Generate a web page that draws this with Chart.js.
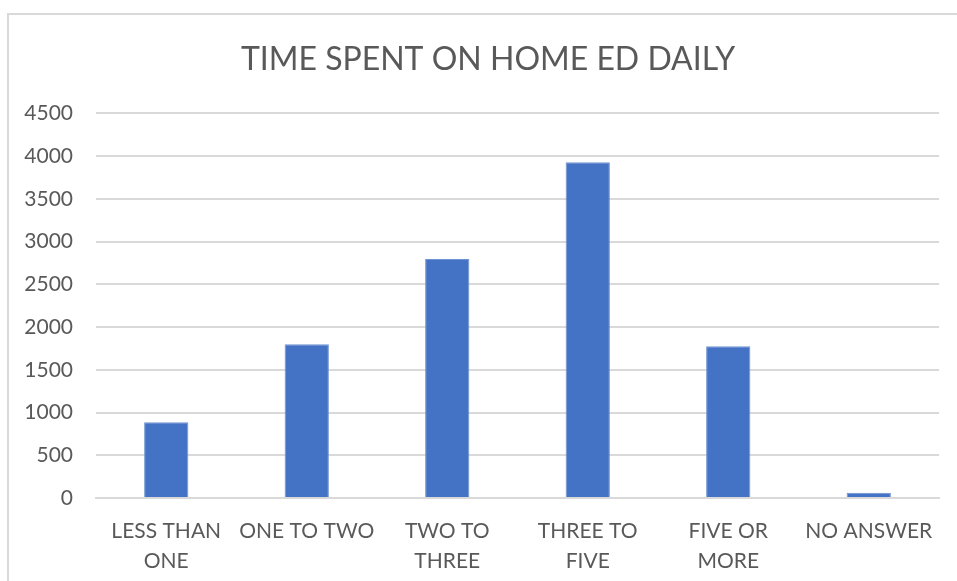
<!DOCTYPE html>
<html>
<head>
<meta charset="utf-8">
<script src="https://cdn.jsdelivr.net/npm/chart.js@4"></script>
<style>
    html, body { margin: 0; padding: 0; background: #fff; overflow: hidden; }
    #frame {
        position: absolute;
        left: 7px;
        top: 13px;
        width: 958px;
        height: 600px;
        border: 2px solid #d9d9d9;
    }
    #chart { display: block; }
</style>
</head>
<body>
<div id="frame">
    <canvas id="chart" width="958" height="600"></canvas>
</div>
<script>
var categories = [
    ['LESS THAN', 'ONE'],
    'ONE TO TWO',
    ['TWO TO', 'THREE'],
    ['THREE TO', 'FIVE'],
    ['FIVE OR', 'MORE'],
    'NO ANSWER'
];
var hoursCounts = [885, 1800, 2795, 3927, 1776, 62];
var yTicks = [0, 500, 1000, 1500, 2000, 2500, 3000, 3500, 4000, 4500];

var textColor = '#595959';
var gridColor = '#d9d9d9';

var ctx = document.getElementById('chart').getContext('2d');
var timeChart = new Chart(ctx, {
    type: 'bar',
    data: {
        labels: categories,
        datasets: [{
            label: 'Time spent',
            data: hoursCounts,
            backgroundColor: '#4472c4',
            borderColor: '#6f93d2',
            borderWidth: 1,
            barPercentage: 0.315,
            categoryPercentage: 1
        }]
    },
    options: {
        responsive: false,
        animation: false,
        layout: {
            padding: 0
        },
        plugins: {
            legend: { display: false },
            tooltip: { enabled: false },
            title: {
                display: true,
                text: 'TIME SPENT ON HOME ED DAILY',
                color: textColor,
                font: { family: 'Lato', size: 32, weight: 'normal', lineHeight: 1.2 },
                padding: { top: 25, bottom: 35 }
            }
        },
        scales: {
            x: {
                grid: { display: false },
                border: { display: true, color: gridColor, width: 2 },
                ticks: {
                    color: textColor,
                    font: { family: 'Lato', size: 21, lineHeight: 1.43 },
                    padding: 10,
                    maxRotation: 0,
                    autoSkip: false
                },
                afterFit: function(scale) { scale.height = 117; }
            },
            y: {
                min: 0,
                max: 4500,
                afterBuildTicks: function(scale) {
                    scale.ticks = yTicks.map(function(v) { return { value: v }; });
                },
                grid: { color: gridColor, lineWidth: 2, drawTicks: false },
                border: { display: false },
                ticks: {
                    color: textColor,
                    font: { family: 'Lato', size: 21 },
                    padding: 23,
                    callback: function(value) { return String(value); }
                },
                afterFit: function(scale) { scale.width = 87; }
            },
            // empty right-hand spacer so the plot ends before the frame edge
            // while the title stays centred on the whole frame
            spacer: {
                type: 'linear',
                position: 'right',
                grid: { display: false },
                border: { display: false },
                ticks: { display: false },
                afterFit: function(scale) { scale.width = 28; }
            }
        }
    }
});
</script>
</body>
</html>
